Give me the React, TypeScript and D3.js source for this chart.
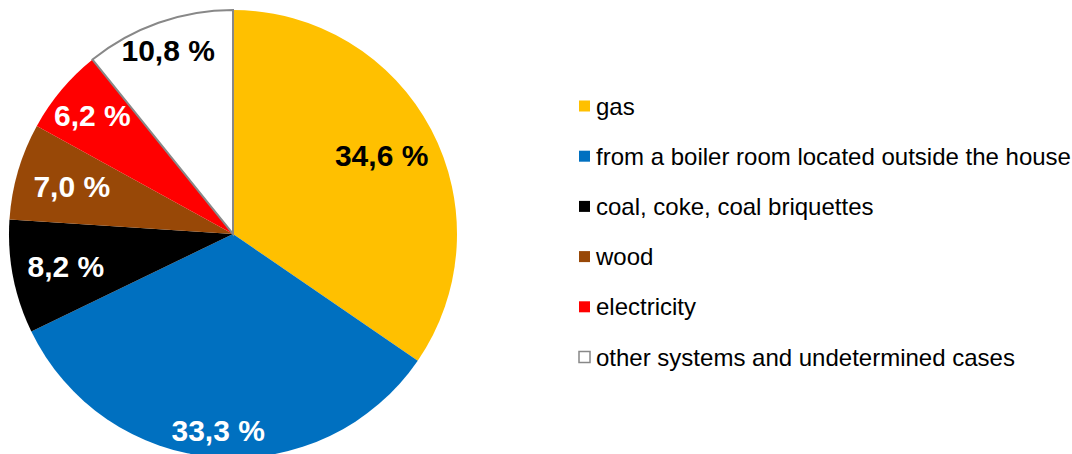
import React from "react";
import * as d3 from "d3";

const categories = [
  "gas",
  "from a boiler room located outside the house",
  "coal, coke, coal briquettes",
  "wood",
  "electricity",
  "other systems and undetermined cases",
];
const values = [34.6, 33.3, 8.2, 7.0, 6.2, 10.8];
const labels = ["34,6 %", "33,3 %", "8,2 %", "7,0 %", "6,2 %", "10,8 %"];
const colors = ["#FFC000", "#0070C0", "#000000", "#984807", "#FF0000", "#FFFFFF"];
const labelColors = ["#000000", "#FFFFFF", "#FFFFFF", "#FFFFFF", "#FFFFFF", "#000000"];
const labelRadiusFactor = [0.75, 0.88, 0.76, 0.75, 0.82, 0.87];

export default function App() {
  const W = 1072, H = 454;
  const cx = 233, cy = 234, r = 224;
  const pie = d3.pie<number>().sort(null).value((d) => d);
  const arcs = pie(values);
  const arcGen = d3.arc<d3.PieArcDatum<number>>().innerRadius(0).outerRadius(r);
  const font = "'Liberation Sans', Arial, sans-serif";
  const legendY = d3.scalePoint<number>().domain(d3.range(categories.length)).range([106, 357]);
  return (
    <svg width={W} height={H} style={{ position: "absolute", left: 0, top: 0, background: "#fff" }}>
      <g transform={`translate(${cx},${cy})`}>
        {arcs.map((a, i) => (
          <path
            key={i}
            d={arcGen(a) || ""}
            fill={colors[i]}
            stroke={i === 5 ? "#888888" : "none"}
            strokeWidth={i === 5 ? 2 : 0}
          />
        ))}
        {arcs.map((a, i) => {
          const lr = r * labelRadiusFactor[i];
          const c = d3.arc<d3.PieArcDatum<number>>().innerRadius(lr).outerRadius(lr).centroid(a);
          return (
            <text
              key={i}
              x={c[0]}
              y={c[1]}
              textAnchor="middle"
              dominantBaseline="central"
              fontFamily={font}
              fontWeight="bold"
              fontSize={30}
              fill={labelColors[i]}
            >
              {labels[i]}
            </text>
          );
        })}
      </g>
      {categories.map((c, i) => {
        const y = legendY(i) as number;
        return (
          <g key={i}>
            <rect
              x={579}
              y={y - 5.5}
              width={11}
              height={11}
              fill={colors[i]}
              stroke={i === 5 ? "#888888" : "none"}
              strokeWidth={i === 5 ? 1.5 : 0}
            />
            <text x={596} y={y} dominantBaseline="central" fontFamily={font} fontSize={24} fill="#000">
              {c}
            </text>
          </g>
        );
      })}
    </svg>
  );
}
